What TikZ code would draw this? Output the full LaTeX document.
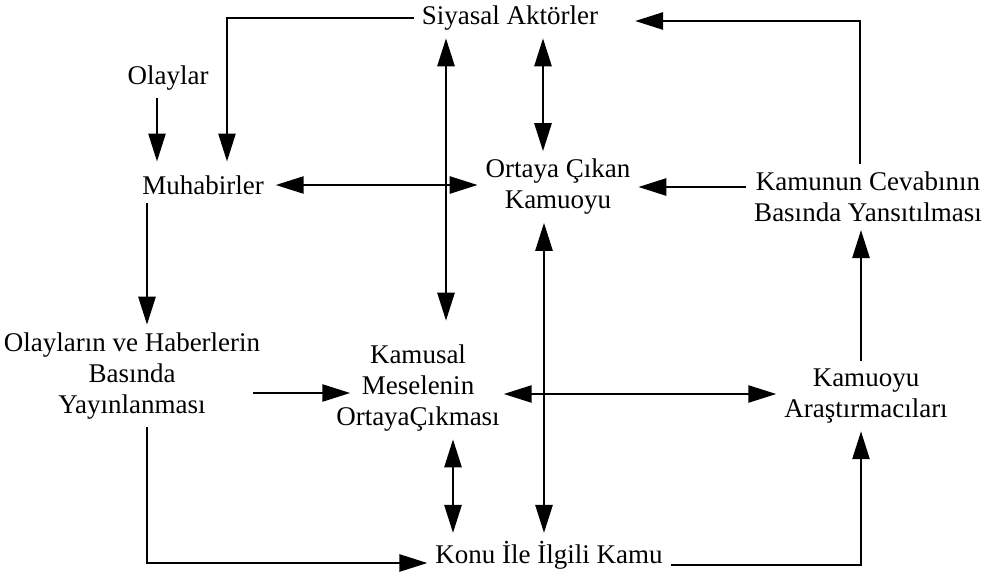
\documentclass[tikz,border=0pt]{standalone}
\usepackage{fontspec}
\setmainfont{Liberation Serif}
\usetikzlibrary{arrows.meta, positioning, calc}

\begin{document}
\begin{tikzpicture}[
    x=0.5pt, y=-0.5pt,
    actor/.style={align=center, inner sep=0pt, outer sep=4pt, font=\fontsize{13.5}{15.5}\selectfont},
    arrow/.style={-{Triangle[length=14pt, width=8.5pt]}, line width=1.3pt},
    twoway/.style={{Triangle[length=14pt, width=8.5pt]}-{Triangle[length=14pt, width=8.5pt]}, line width=1.3pt}
]
\useasboundingbox (0,0) rectangle (986,579);

% Top row
\node[actor] (siyasal) at (510,18) {Siyasal Aktörler};
\node[actor] (olaylar) at (168,78) {Olaylar};
\node[actor] (muhabir) at (203,185) {Muhabirler};
\node[actor] (ortaya) at (558,187) {Ortaya Çıkan\\Kamuoyu};
\node[actor] (kamunun) at (868,197) {Kamunun Cevabının\\Basında Yansıtılması};

% Middle and bottom row
\node[actor] (olaylarin) at (132,376) {Olayların ve Haberlerin\\Basında\\Yayınlanması};
\node[actor] (kamusal) at (418,388) {Kamusal\\Meselenin\\OrtayaÇıkması};
\node[actor] (arastirma) at (866,396) {Kamuoyu\\Araştırmacıları};
\node[actor] (konu) at (549,555) {Konu İle İlgili Kamu};

% Connections
\draw[arrow] (siyasal.west) -| ($(muhabir.north -| 227,0)+(0,-6)$);
\draw[arrow] (olaylar.south -| 157,0) -- ($(muhabir.north -| 157,0)+(0,-6)$);
\draw[twoway] ($(muhabir.east)+(4,0)$) -- (muhabir.east -| ortaya.west);
\draw[twoway] (siyasal.south -| 446,0) -- ($(kamusal.north -| 446,0)+(0,-16)$);
\draw[twoway] (siyasal.south -| 543,0) -- (ortaya.north -| 543,0);
\draw[arrow] (ortaya.east -| kamunun.west) -- (ortaya.east);
\draw[arrow] (kamunun.north -| 860,0) |- ($(siyasal.east)+(29,3)$);
\draw[arrow] (muhabir.south -| 147,0) -- (olaylarin.north -| 147,0);
\draw[arrow] ($(olaylarin.east |- kamusal.west)+(-15,5)$) -- ($(kamusal.west)+(22,5)$);
\draw[twoway] ($(kamusal.east)+(-4,6)$) -- ($(kamusal.east -| arastirma.west)+(0,6)$);
\draw[twoway] (ortaya.south -| 544,0) -- (konu.north -| 544,0);
\draw[twoway] (kamusal.south -| 453,0) -- (konu.north -| 453,0);
\draw[arrow] (olaylarin.south -| 147,0) |- ($(konu.west)+(0,8)$);
\draw[arrow] ($(konu.east)+(0,10)$) -| (arastirma.south -| 861,0);
\draw[arrow] (arastirma.north -| 861,0) -- (kamunun.south -| 861,0);

\end{tikzpicture}
\end{document}
